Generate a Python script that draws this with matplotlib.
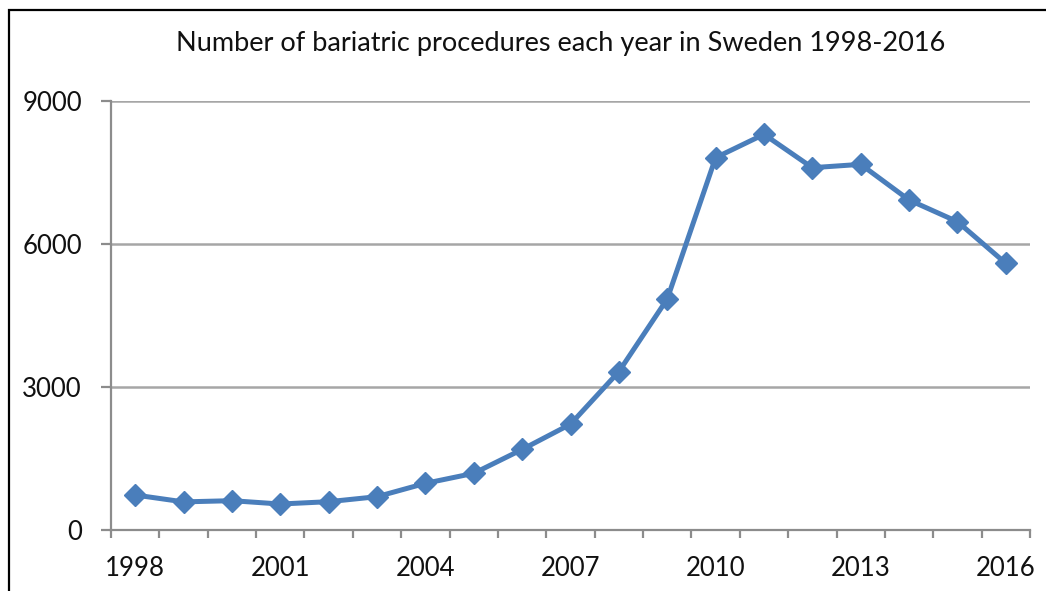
import matplotlib
matplotlib.use("Agg")
import matplotlib.pyplot as plt
from matplotlib.patches import Rectangle
from matplotlib.ticker import FixedLocator

years = list(range(1998, 2017))
procedures = [734, 590, 615, 545, 594, 699, 979, 1189, 1690, 2220,
              3322, 4846, 7811, 8301, 7601, 7671, 6923, 6468, 5594]
y_ticks = [0, 3000, 6000, 9000]
labelled_years = [1998, 2001, 2004, 2007, 2010, 2013, 2016]

title = "Number of bariatric procedures each year in Sweden 1998-2016"

plt.rcParams["font.family"] = ["Lato", "DejaVu Sans"]

W, H = 1046, 591
fig = plt.figure(figsize=(W / 100, H / 100), dpi=100)
fig.patch.set_facecolor("white")

# outer frame of the chart area
fig.add_artist(Rectangle((8.5 / W, -0.05), 1.1, 1 - 10.5 / H + 0.05,
                         transform=fig.transFigure, fill=False,
                         edgecolor="black", linewidth=1.6))

ax = fig.add_axes([111 / W, 1 - 530 / H, (1030 - 111) / W, (530 - 101) / H])

idx = list(range(len(years)))
ax.plot(idx, procedures, color="#4A7EBB", linewidth=3.6,
        marker="D", markersize=11, clip_on=False, zorder=3)

ax.set_xlim(-0.5, len(years) - 0.5)
ax.set_ylim(0, 9000)

# category axis: ticks between categories, labels under every third year
ax.xaxis.set_major_locator(FixedLocator([years.index(y) for y in labelled_years]))
ax.set_xticklabels([str(y) for y in labelled_years])
ax.xaxis.set_minor_locator(FixedLocator([i - 0.5 for i in range(len(years) + 1)]))
ax.tick_params(axis="x", which="major", length=0, pad=19, labelsize=18.5,
               labelcolor="#111111")
ax.tick_params(axis="x", which="minor", length=6, width=1.6, color="#8c8c8c",
               direction="out")

ax.set_yticks(y_ticks)
ax.set_yticklabels([str(v) for v in y_ticks])
ax.tick_params(axis="y", length=7, width=1.6, color="#8c8c8c", pad=14,
               labelsize=18.5, labelcolor="#111111")

ax.grid(axis="y", color="#a6a6a6", linewidth=1.8)
ax.set_axisbelow(True)
for side in ("top", "right"):
    ax.spines[side].set_visible(False)
for side in ("left", "bottom"):
    ax.spines[side].set_color("#8c8c8c")
    ax.spines[side].set_linewidth(1.6)

fig.text(561 / W, 1 - 43 / H, title, ha="center", va="center",
         fontsize=19.5, color="#111111")

fig.savefig("out.png", dpi=100)
